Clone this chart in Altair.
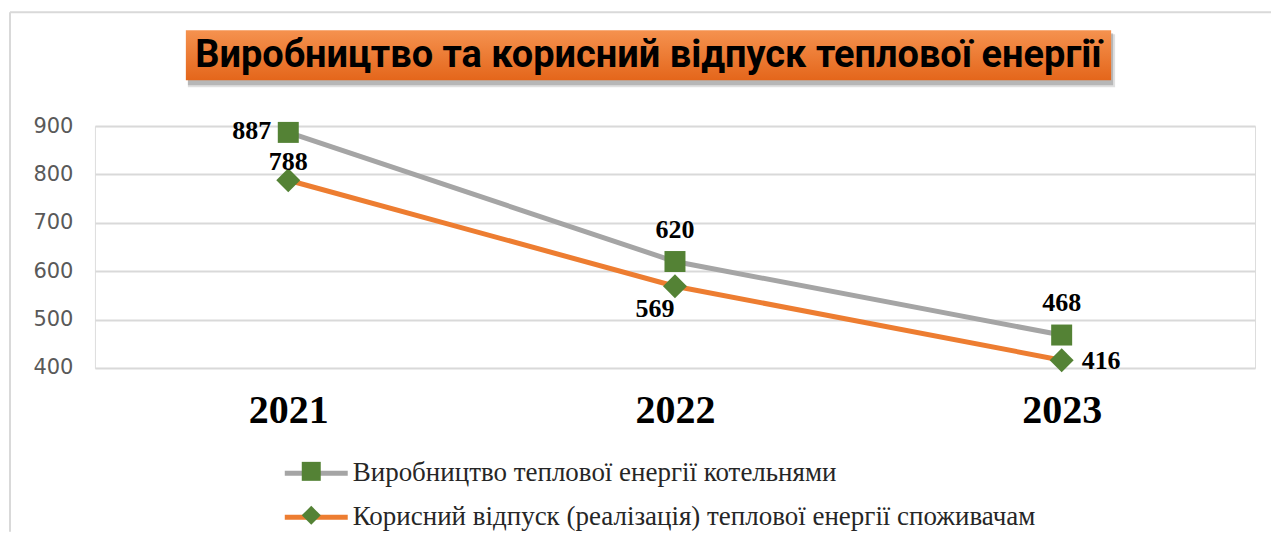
import altair as alt
import pandas as pd

years = ["2021", "2022", "2023"]
series_names = [
    "Виробництво теплової енергії котельнями",
    "Корисний відпуск (реалізація)  теплової енергії споживачам",
]
production = [887, 620, 468]
useful_supply = [788, 569, 416]
y_ticks = [400, 500, 600, 700, 800, 900]
title_text = "Виробництво та корисний відпуск теплової енергії"

rows = []
for i, name in enumerate(series_names):
    vals = production if i == 0 else useful_supply
    for yr, v in zip(years, vals):
        rows.append({"year": yr, "value": v, "series": name, "marker": name, "sid": i})
df = pd.DataFrame(rows)

W, H = 1161, 242
GRAY, ORANGE, GREEN = "#A5A5A5", "#ED7D31", "#548235"

x_enc = alt.X("year:O", scale=alt.Scale(type="point", padding=0.5),
              axis=alt.Axis(title=None, labelAngle=0, domain=False, ticks=False, grid=False,
                            labelFont="Liberation Serif", labelFontWeight="bold",
                            labelFontSize=40, labelColor="#000000", labelPadding=23))
y_enc = alt.Y("value:Q", scale=alt.Scale(domain=[400, 900], nice=False, zero=False),
              axis=alt.Axis(title=None, values=y_ticks, domain=False, ticks=False,
                            gridColor="#D9D9D9", gridWidth=2,
                            labelFont="DejaVu Sans", labelFontSize=21,
                            labelColor="#595959", labelPadding=22))

base = alt.Chart(df)

lines = base.mark_line(strokeWidth=5).encode(
    x=x_enc, y=y_enc,
    color=alt.Color("series:N",
                    scale=alt.Scale(range=[GRAY, ORANGE]),
                    legend=alt.Legend(title=None, orient="none", legendX=208, legendY=334,
                                      symbolType="M-3,0H3", symbolSize=441, symbolStrokeWidth=5,
                                      labelFont="Liberation Serif", labelFontSize=27,
                                      labelColor="#262626", labelLimit=900, rowPadding=16,
                                      labelOffset=23)),
    detail="series:N",
)

points = base.mark_point(filled=True, opacity=1, color=GREEN).encode(
    x="year:O", y="value:Q",
    shape=alt.Shape("marker:N",
                    scale=alt.Scale(range=["square", "diamond"]),
                    legend=alt.Legend(title=None, orient="none", legendX=207, legendY=336,
                                      symbolFillColor=GREEN, symbolStrokeWidth=0, symbolSize=361,
                                      symbolOpacity=1, labelExpr="''",
                                      labelFontSize=1, rowPadding=25)),
    size=alt.Size("sid:N", scale=alt.Scale(range=[441, 576]), legend=None),
)

# label placement: (series index, year) -> (align, dx, dy)
placement = {
    (0, "2021"): ("right", -17, -1),
    (1, "2021"): ("center", 0, -18),
    (0, "2022"): ("center", 0, -32),
    (1, "2022"): ("center", -20, 23),
    (0, "2023"): ("center", 0, -32),
    (1, "2023"): ("left", 20, 1),
}
label_layers = []
for (sid, yr), (al, dx, dy) in placement.items():
    label_layers.append(
        base.transform_filter((alt.datum.sid == sid) & (alt.datum.year == yr))
        .mark_text(align=al, baseline="middle", dx=dx, dy=dy,
                   font="Liberation Serif", fontWeight="bold", fontSize=26, color="#000000")
        .encode(x="year:O", y="value:Q", text="value:Q")
    )

one = alt.Chart(pd.DataFrame({"a": [0]}))
frame_top = one.mark_rule(color="#D9D9D9", strokeWidth=2).encode(
    x=alt.value(-85), x2=alt.value(W + 16), y=alt.value(-114))
frame_left = one.mark_rule(color="#D9D9D9", strokeWidth=2).encode(
    x=alt.value(-85), y=alt.value(-114), y2=alt.value(H + 164))

shadow1 = one.mark_rect(color="#000000", opacity=0.12).encode(
    x=alt.value(93), x2=alt.value(1021), y=alt.value(-92), y2=alt.value(-39))
shadow2 = one.mark_rect(color="#000000", opacity=0.18).encode(
    x=alt.value(93), x2=alt.value(1019), y=alt.value(-93), y2=alt.value(-41))
grad = alt.Gradient(gradient="linear", x1=0, x2=0, y1=0, y2=1,
                    stops=[alt.GradientStop(color="#F5924F", offset=0),
                           alt.GradientStop(color="#E4661B", offset=1)])
title_box = one.mark_rect(color=grad).encode(
    x=alt.value(91), x2=alt.value(1017), y=alt.value(-96), y2=alt.value(-46))
title_label = one.mark_text(font="Roboto", fontWeight="bold", fontSize=38, color="#000000",
                            align="center", baseline="middle").encode(
    x=alt.value(554), y=alt.value(-70), text=alt.value(title_text))

chart = alt.layer(
    frame_top, frame_left, shadow1, shadow2, title_box, title_label,
    lines, points, *label_layers
).resolve_scale(shape="independent", color="independent", size="independent").properties(
    width=W, height=H,
    autosize=alt.AutoSizeParams(type="none"),
    padding={"left": 87, "top": 118, "right": 16, "bottom": 164},
).configure_view(stroke=None).configure(background="#FFFFFF")

chart.save("out.html", embed_options={"renderer": "svg", "actions": False})
